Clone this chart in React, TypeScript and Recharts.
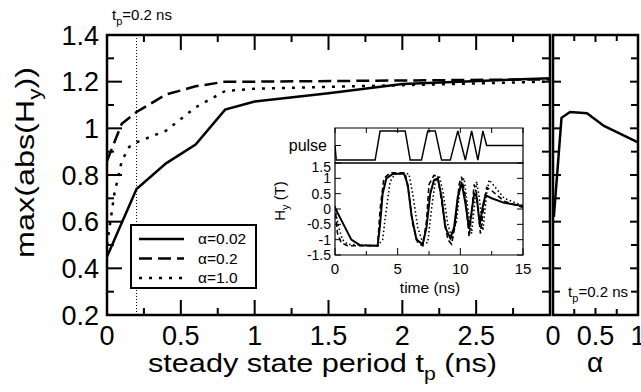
import React from 'react';
import { LineChart, Line, XAxis, YAxis, ReferenceLine, ReferenceArea, Legend } from 'recharts';

const FONT = '"Liberation Sans", Arial, Helvetica, sans-serif';
const W = 641;
const H = 392;

// main panel: max(abs(Hy)) against the steady state period tp
const tpAlpha002 = [0, 0.2, 0.4, 0.6, 0.8, 1.0, 1.5, 2.0, 3.0];
const maxAlpha002 = [0.45, 0.74, 0.85, 0.93, 1.08, 1.115, 1.15, 1.19, 1.215];
const tpAlpha02 = [0, 0.1, 0.2, 0.4, 0.6, 0.8, 1.0, 2.0, 3.0];
const maxAlpha02 = [0.86, 1.02, 1.07, 1.145, 1.18, 1.2, 1.2, 1.205, 1.21];
const tpAlpha1 = [0, 0.05, 0.1, 0.15, 0.2, 0.3, 0.4, 0.6, 0.8, 1.0, 2.0, 3.0];
const maxAlpha1 = [0.5, 0.72, 0.86, 0.92, 0.94, 0.965, 0.99, 1.09, 1.16, 1.17, 1.185, 1.2];

// right panel: max(abs(Hy)) against alpha at tp = 0.2 ns
const alphaValues = [0.01, 0.1, 0.2, 0.4, 0.6, 1.0];
const maxAtTp02 = [0.62, 1.045, 1.07, 1.065, 1.01, 0.94];

// inset: pulse train and Hy(t)
const pulseTime = [0, 0.1, 3.2, 3.6, 5.6, 6.0, 6.9, 7.4, 8.0, 8.5, 9.2, 9.8, 10.4, 10.9, 11.4, 11.8, 12.1, 15];
const pulseLevel = [0, -1, -1, 1, 1, -1, -1, 1, 1, -1, -1, 1, -1, 1, -1, 1, 0, 0];

const hyTime002 = [0, 0.3, 0.8, 1.3, 2.0, 3.4, 3.6, 3.8, 4.1, 4.6, 5.5, 5.8, 6.1, 6.5, 7.0, 7.3, 7.6, 7.9, 8.2, 8.5, 8.8, 9.2, 9.5, 9.8, 10.1, 10.4, 10.7, 10.9, 11.1, 11.3, 11.55, 11.8, 12.0, 12.5, 13.5, 15];
const hyValue002 = [0.05, -0.2, -0.6, -1.0, -1.18, -1.2, -0.5, 0.5, 1.0, 1.14, 1.16, 0.8, -0.2, -1.0, -1.15, -0.6, 0.5, 0.95, 1.0, 0.4, -0.6, -0.95, -0.6, 0.4, 0.85, 0.2, -0.65, -0.1, 0.5, 0.4, -0.5, 0.1, 0.45, 0.35, 0.2, 0.1];
const hyTime02 = [0, 0.2, 0.5, 1.0, 3.4, 3.6, 3.9, 4.4, 5.6, 5.9, 6.2, 6.6, 7.0, 7.3, 7.5, 7.9, 8.2, 8.6, 9.0, 9.3, 9.6, 9.9, 10.1, 10.4, 10.7, 10.9, 11.1, 11.3, 11.6, 11.9, 12.1, 12.5, 13.5, 15];
const hyValue02 = [0.1, -0.8, -1.1, -1.2, -1.2, 0.0, 1.0, 1.18, 1.18, 0.5, -0.5, -1.1, -1.2, -0.4, 0.8, 1.1, 1.05, 0.0, -1.0, -1.15, -0.5, 0.8, 1.05, 0.4, -0.9, -0.2, 0.8, 0.5, -0.8, 0.2, 0.7, 0.6, 0.25, 0.05];
const hyTime1 = [0, 0.3, 0.6, 1.0, 3.4, 3.8, 4.1, 4.4, 4.8, 5.9, 6.2, 6.6, 7.0, 7.4, 7.7, 8.0, 8.3, 8.6, 9.0, 9.3, 9.7, 10.0, 10.3, 10.6, 10.9, 11.1, 11.3, 11.5, 11.8, 12.1, 12.3, 12.7, 13.5, 15];
const hyValue1 = [0.0, -0.6, -1.0, -1.15, -1.2, -1.0, 0.0, 0.9, 1.15, 1.15, 0.5, -0.6, -1.1, -1.1, 0.0, 0.9, 1.1, 0.6, -0.5, -0.9, -0.4, 0.8, 1.0, 0.0, -0.8, 0.0, 0.9, 0.4, -0.7, 0.5, 0.95, 0.75, 0.35, 0.1];

// ticks
const tpTicks = [0, 0.25, 0.5, 0.75, 1, 1.25, 1.5, 1.75, 2, 2.25, 2.5, 2.75, 3];
const tpMajor = [0, 0.5, 1, 1.5, 2, 2.5, 3];
const tpLabels = [0, 0.5, 1, 1.5, 2, 2.5];
const maxTicks = [0.2, 0.3, 0.4, 0.5, 0.6, 0.7, 0.8, 0.9, 1, 1.1, 1.2, 1.3, 1.4];
const maxMajor = [0.2, 0.4, 0.6, 0.8, 1, 1.2, 1.4];
const alphaTicks = [0, 0.25, 0.5, 0.75, 1];
const alphaLabels = [0, 0.5, 1];
const timeTicks = [0, 2.5, 5, 7.5, 10, 12.5, 15];
const timeLabels = [0, 5, 10, 15];
const hyTicks = [-1.5, -1, -0.5, 0, 0.5, 1, 1.5];
const pulseTicks = [0];

const pts = (xs: number[], ys: number[]) => xs.map((x, i) => ({ x, y: ys[i] }));

const mainSeries = [
  { name: 'α=0.02', data: pts(tpAlpha002, maxAlpha002), dash: undefined as string | undefined },
  { name: 'α=0.2', data: pts(tpAlpha02, maxAlpha02), dash: '13 6' },
  { name: 'α=1.0', data: pts(tpAlpha1, maxAlpha1), dash: '3 7' },
];
const insetSeries = [
  { name: 'α=0.02', data: pts(hyTime002, hyValue002), dash: undefined as string | undefined, w: 2 },
  { name: 'α=0.2', data: pts(hyTime02, hyValue02), dash: '5 3', w: 1.6 },
  { name: 'α=1.0', data: pts(hyTime1, hyValue1), dash: '1.5 2.5', w: 1.6 },
];

const has = (list: number[] | undefined, v: number) => !!list && list.some((t) => Math.abs(t - v) < 1e-9);

interface TickCfg {
  major: number[];
  labels?: number[];
  text?: (v: number) => string;
  len: [number, number];
  dir: 1 | -1;
  mirrorAt?: number;
  mirrorLen?: [number, number];
  sw: number;
  fs?: number;
  gap?: number;
  nudge?: (v: number) => number;
}

function xTick(c: TickCfg) {
  return (props: any) => {
    const { x, y, payload } = props;
    const v = payload.value;
    const m = has(c.major, v);
    const len = m ? c.len[0] : c.len[1];
    const ml = c.mirrorLen ? (m ? c.mirrorLen[0] : c.mirrorLen[1]) : len;
    return (
      <g>
        <line x1={x} x2={x} y1={y} y2={y + c.dir * len} stroke="#000" strokeWidth={c.sw} />
        {c.mirrorAt !== undefined && (
          <line x1={x} x2={x} y1={c.mirrorAt} y2={c.mirrorAt - c.dir * ml} stroke="#000" strokeWidth={c.sw} />
        )}
        {has(c.labels, v) && (
          <text x={x} y={y + (c.gap ?? 0)} textAnchor="middle" fontSize={c.fs} fontFamily={FONT} fill="#000">
            {(c.text ?? String)(v)}
          </text>
        )}
      </g>
    );
  };
}

function yTick(c: TickCfg) {
  return (props: any) => {
    const { x, y, payload } = props;
    const v = payload.value;
    const m = has(c.major, v);
    const len = m ? c.len[0] : c.len[1];
    const ml = c.mirrorLen ? (m ? c.mirrorLen[0] : c.mirrorLen[1]) : len;
    const fs = c.fs ?? 12;
    const dy = c.nudge ? c.nudge(v) : 0;
    return (
      <g>
        <line x1={x} x2={x + c.dir * len} y1={y} y2={y} stroke="#000" strokeWidth={c.sw} />
        {c.mirrorAt !== undefined && (
          <line x1={c.mirrorAt} x2={c.mirrorAt - c.dir * ml} y1={y} y2={y} stroke="#000" strokeWidth={c.sw} />
        )}
        {has(c.labels, v) && (
          <text x={x - (c.gap ?? 0)} y={y + fs * 0.36 + dy} textAnchor="end" fontSize={fs} fontFamily={FONT} fill="#000">
            {(c.text ?? String)(v)}
          </text>
        )}
      </g>
    );
  };
}

const renderLegend = (props: any) => {
  const payload: any[] = props?.payload ?? [];
  const rows = payload.length
    ? payload.map((p) => mainSeries.find((s) => s.name === p.value) ?? mainSeries[0])
    : mainSeries;
  return (
    <div style={{ width: 127, height: 65, boxSizing: 'border-box', border: '2px solid #000', background: '#fff' }}>
      <svg width={123} height={61}>
        {rows.map((s, i) => {
          const cy = 13 + i * 19.5;
          return (
            <g key={s.name}>
              <line x1={7} x2={52} y1={cy} y2={cy} stroke="#000" strokeWidth={2.5} strokeDasharray={s.dash} />
              <text x={66} y={cy + 5} fontSize={15.5} fontFamily={FONT} fill="#000">{s.name}</text>
            </g>
          );
        })}
      </svg>
    </div>
  );
};

const layer: React.CSSProperties = { position: 'absolute', left: 0, top: 0 };

// axes get a 1px band (a 0px axis is not drawn); margins are reduced by that pixel
export default function App() {
  return (
    <div style={{ position: 'absolute', left: 0, top: 0, width: W, height: H, background: '#fff', fontFamily: FONT }}>
      {/* main panel */}
      <div style={layer}>
        <LineChart width={W} height={H} margin={{ top: 35, right: 91, bottom: 76, left: 106 }}>
          <XAxis type="number" dataKey="x" domain={[0, 3]} ticks={tpTicks} interval={0} allowDataOverflow
            height={1} tickSize={0} tickMargin={0} axisLine={false} tickLine={false}
            tick={xTick({ major: tpMajor, labels: tpLabels, len: [15, 7], dir: -1, mirrorAt: 35, sw: 2, fs: 27, gap: 30 })} />
          <YAxis type="number" domain={[0.2, 1.4]} ticks={maxTicks} interval={0} allowDataOverflow
            width={1} tickSize={0} tickMargin={0} axisLine={false} tickLine={false}
            tick={yTick({ major: maxMajor, labels: maxMajor, len: [15, 7], dir: 1, mirrorAt: 550, mirrorLen: [8, 8], sw: 2, fs: 27, gap: 8 })} />
          <ReferenceLine x={0.2} stroke="#000" strokeWidth={1} strokeDasharray="1 2" />
          {mainSeries.map((s) => (
            <Line key={s.name} data={s.data} dataKey="y" name={s.name} type="linear" stroke="#000" strokeWidth={2.5}
              strokeDasharray={s.dash} dot={false} activeDot={false} legendType="line" isAnimationActive={false} />
          ))}
          <ReferenceArea x1={0} x2={3} y1={0.2} y2={1.4} fill="none" fillOpacity={0} stroke="#000" strokeWidth={2.5} />
          <Legend content={renderLegend} layout="vertical" align="center" verticalAlign="middle"
            wrapperStyle={{ position: 'absolute', left: 130, top: 224, width: 127, height: 65 }} />
        </LineChart>
      </div>

      {/* right panel: alpha dependence */}
      <div style={layer}>
        <LineChart width={W} height={H} margin={{ top: 35, right: 3, bottom: 76, left: 552 }}>
          <XAxis type="number" dataKey="x" domain={[0, 1]} ticks={alphaTicks} interval={0} allowDataOverflow
            height={1} tickSize={0} tickMargin={0} axisLine={false} tickLine={false}
            tick={xTick({ major: alphaLabels, labels: alphaLabels, len: [7, 6], dir: -1, mirrorAt: 35, sw: 2, fs: 27, gap: 30 })} />
          <YAxis type="number" domain={[0.2, 1.4]} ticks={maxTicks} interval={0} allowDataOverflow
            width={1} tickSize={0} tickMargin={0} axisLine={false} tickLine={false}
            tick={yTick({ major: maxMajor, len: [8, 7], dir: 1, mirrorAt: 638, sw: 2 })} />
          <Line data={pts(alphaValues, maxAtTp02)} dataKey="y" type="linear" stroke="#000" strokeWidth={2.5}
            dot={false} activeDot={false} isAnimationActive={false} />
          <ReferenceArea x1={0} x2={1} y1={0.2} y2={1.4} fill="none" fillOpacity={0} stroke="#000" strokeWidth={2.5} />
        </LineChart>
      </div>

      {/* inset: pulse train */}
      <div style={layer}>
        <LineChart width={W} height={H} margin={{ top: 127, right: 118, bottom: 229, left: 334 }}>
          <XAxis type="number" dataKey="x" orientation="top" domain={[0, 15]} ticks={timeTicks} interval={0} allowDataOverflow
            height={1} tickSize={0} tickMargin={0} axisLine={false} tickLine={false}
            tick={xTick({ major: timeLabels, len: [5, 5], dir: 1, sw: 1 })} />
          <YAxis type="number" domain={[-1.2, 1.2]} ticks={pulseTicks} interval={0} allowDataOverflow
            width={1} tickSize={0} tickMargin={0} axisLine={false} tickLine={false}
            tick={yTick({ major: pulseTicks, labels: pulseTicks, text: () => 'pulse', len: [6, 6], dir: 1, sw: 1, fs: 16, gap: 8 })} />
          <Line data={pts(pulseTime, pulseLevel)} dataKey="y" type="linear" stroke="#000" strokeWidth={1.5}
            dot={false} activeDot={false} isAnimationActive={false} />
          <ReferenceArea x1={0} x2={15} y1={-1.2} y2={1.2} fill="none" fillOpacity={0} stroke="#000" strokeWidth={1.2} />
        </LineChart>
      </div>

      {/* inset: Hy(t) */}
      <div style={layer}>
        <LineChart width={W} height={H} margin={{ top: 163, right: 118, bottom: 136, left: 334 }}>
          <XAxis type="number" dataKey="x" domain={[0, 15]} ticks={timeTicks} interval={0} allowDataOverflow
            height={1} tickSize={0} tickMargin={0} axisLine={false} tickLine={false}
            tick={xTick({ major: timeLabels, labels: timeLabels, len: [7, 4], dir: -1, sw: 1, fs: 15, gap: 19 })} />
          <YAxis type="number" domain={[-1.5, 1.5]} ticks={hyTicks} interval={0} allowDataOverflow
            width={1} tickSize={0} tickMargin={0} axisLine={false} tickLine={false}
            tick={yTick({ major: hyTicks, labels: hyTicks, len: [6, 6], dir: 1, mirrorAt: 523, sw: 1, fs: 14, gap: 4,
              nudge: (v) => (v >= 1.5 ? 3.5 : 0) })} />
          {insetSeries.map((s) => (
            <Line key={s.name} data={s.data} dataKey="y" name={s.name} type="linear" stroke="#000" strokeWidth={s.w}
              strokeDasharray={s.dash} dot={false} activeDot={false} isAnimationActive={false} />
          ))}
          <ReferenceArea x1={0} x2={15} y1={-1.5} y2={1.5} fill="none" fillOpacity={0} stroke="#000" strokeWidth={1.2} />
        </LineChart>
      </div>

      {/* titles */}
      <svg width={W} height={H} style={{ ...layer, pointerEvents: 'none' }} fontFamily={FONT} fill="#000">
        <text x={148} y={372} fontSize={26} textLength={349} lengthAdjust="spacingAndGlyphs">
          steady state period t<tspan dy={8} fontSize={18}>p</tspan><tspan dy={-8}> (ns)</tspan>
        </text>
        <text transform="translate(34,162.5) rotate(-90)" textAnchor="middle" fontSize={26} textLength={191} lengthAdjust="spacingAndGlyphs">
          max(abs(H<tspan dy={7} fontSize={18}>y</tspan><tspan dy={-7}>))</tspan>
        </text>
        <text x={595} y={372} textAnchor="middle" fontSize={28}>α</text>
        <text x={112} y={20} fontSize={15}>
          t<tspan dy={5} fontSize={11}>p</tspan><tspan dy={-5}>=0.2 ns</tspan>
        </text>
        <text x={628} y={297} textAnchor="end" fontSize={15}>
          t<tspan dy={5} fontSize={11}>p</tspan><tspan dy={-5}>=0.2 ns</tspan>
        </text>
        <text x={430} y={293} textAnchor="middle" fontSize={15.5}>time (ns)</text>
        <text transform="translate(285,201) rotate(-90)" textAnchor="middle" fontSize={15}>
          H<tspan dy={4} fontSize={11}>y</tspan><tspan dy={-4}> (T)</tspan>
        </text>
      </svg>
    </div>
  );
}
